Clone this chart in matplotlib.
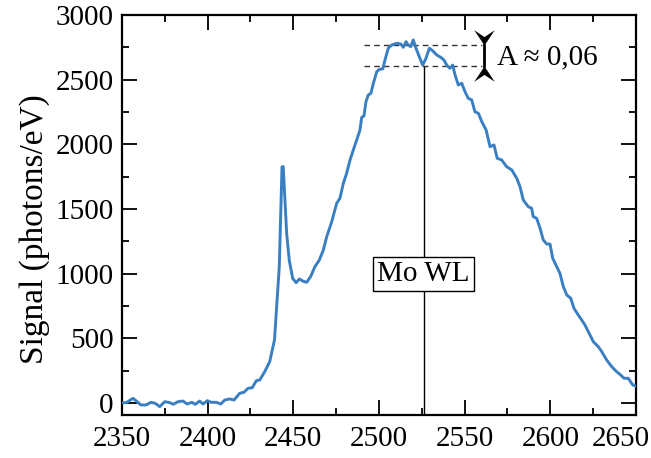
import matplotlib
matplotlib.use("Agg")
import matplotlib.pyplot as plt
from matplotlib.path import Path
from matplotlib.ticker import MultipleLocator, FixedLocator
import matplotlib.transforms as mtransforms

plt.rcParams['font.family'] = ['Liberation Serif', 'DejaVu Serif']
plt.rcParams['mathtext.fontset'] = 'stix'

# ---- data ----
energy = [2350, 2352.5, 2356.4, 2358.4, 2361, 2364, 2367, 2369.4, 2372, 2375, 2378, 2380,
          2382.7, 2385.6, 2388, 2390.8, 2392.8, 2395.3, 2397.3, 2399.8, 2402, 2405, 2407.6,
          2410, 2412.9, 2415.4, 2418.7, 2421.2, 2423.5, 2426, 2428.4, 2430.4, 2433.3, 2436.2,
          2438.1, 2439, 2440.3, 2441.8, 2442.6, 2443.4, 2444.1, 2445.1, 2446.1, 2447.6,
          2449.6, 2451.6, 2453.5, 2455.5, 2457.8, 2460.1, 2462.6, 2465.2, 2467.5, 2469.5,
          2472.4, 2475.3, 2477.2, 2479.2, 2481.1, 2483.1, 2485, 2487, 2488.9, 2489.9, 2491.2,
          2492.4, 2493.7, 2495.3, 2496.7, 2498.7, 2500.2, 2502.2, 2503.5, 2505.4, 2507.4,
          2510.3, 2512.7, 2514.2, 2515.8, 2517.1, 2518.5, 2520, 2521.6, 2523.5, 2525.5,
          2527.4, 2529.4, 2531.3, 2533.7, 2536, 2537.9, 2539.5, 2541.4, 2543, 2544.4, 2546.3,
          2548.3, 2550.2, 2552.1, 2554.1, 2556, 2558, 2560, 2562.5, 2564.8, 2567.1, 2569,
          2571.6, 2574.5, 2577.5, 2580.4, 2582.3, 2584.2, 2587.1, 2589.1, 2590, 2592, 2594,
          2595.9, 2597.9, 2599.8, 2601.4, 2603.7, 2605.6, 2607.6, 2609.6, 2611.9, 2613.8,
          2616.3, 2618.3, 2620.2, 2622.2, 2625.1, 2628, 2630, 2632.9, 2635.8, 2638.7, 2641.1,
          2643, 2645.5, 2648.1, 2650]
signal = [2, 2, 36, 15, -15, -15, 5, -3, -28, 10, 2, -10,
          10, 15, -8, 5, -10, 15, -8, 18, 5, 5, -8,
          23, 31, 23, 75, 83, 113, 118, 172, 178, 242, 319,
          435, 487, 745, 1054, 1440, 1827, 1827, 1570, 1312, 1106,
          964, 930, 959, 943, 933, 977, 1054, 1106, 1183, 1286,
          1402, 1544, 1583, 1699, 1776, 1879, 1956, 2034, 2111, 2209, 2219,
          2330, 2381, 2395, 2472, 2562, 2580, 2583, 2652, 2743, 2768,
          2781, 2776, 2750, 2794, 2768, 2755, 2807, 2743, 2678, 2613,
          2665, 2743, 2724, 2691, 2673, 2652, 2613, 2588, 2613, 2536, 2459,
          2472, 2407, 2356, 2343, 2252, 2240, 2175, 2111, 1982, 1995, 1892,
          1879, 1827, 1802, 1737, 1672, 1570, 1518, 1505, 1441, 1428, 1351,
          1260, 1229, 1229, 1119, 1054, 1003, 899, 835, 810, 732,
          680, 642, 603, 551, 474, 435, 397, 332, 281, 242, 216,
          191, 191, 139, 131]

x_ticks = [2350, 2400, 2450, 2500, 2550, 2600, 2650]
y_ticks = [0, 500, 1000, 1500, 2000, 2500, 3000]

mo_wl = 2526
level_high = 2765
level_low = 2608
dash_start, dash_end = 2491, 2560
bar_x = 2561
label_text = "A \u2248 0,06"
box_text = "Mo WL"
box_y = 1000

fig = plt.figure(figsize=(6.51, 4.58), dpi=100)
ax = fig.add_axes([122/651, 43/458, (636-122)/651, (415-15)/458])

ax.plot(energy, signal, color='#3a7fc1', lw=2.1, zorder=3)

ax.set_xlim(2350, 2650)
ax.set_ylim(-93, 3000)

# Mo WL vertical line and box
ax.plot([mo_wl, mo_wl], [-93, level_low], color='black', lw=1.0, zorder=2)
ax.text(mo_wl, box_y, box_text, ha='center', va='center', fontsize=21, zorder=5,
        bbox=dict(boxstyle='square,pad=0.14', fc='white', ec='black', lw=1.0))

# dashed levels
ax.plot([dash_start, dash_end], [level_high, level_high], color='#333333', lw=1.0,
        ls=(0, (4, 3)), zorder=2)
ax.plot([dash_start, dash_end], [level_low, level_low], color='#333333', lw=1.0,
        ls=(0, (4, 3)), zorder=2)

# amplitude bar with arrowheads
ax.plot([bar_x, bar_x], [level_low, level_high], color='black', lw=2.0, zorder=4)
down_head = Path([(0, 0), (-0.67, 1.0), (0, 0.55), (0.67, 1.0), (0, 0)],
                 [Path.MOVETO, Path.LINETO, Path.LINETO, Path.LINETO, Path.CLOSEPOLY])
up_head = Path([(0, 0), (-0.67, -1.0), (0, -0.55), (0.67, -1.0), (0, 0)],
               [Path.MOVETO, Path.LINETO, Path.LINETO, Path.LINETO, Path.CLOSEPOLY])
ax.plot([bar_x], [level_high], marker=down_head, ms=22, color='black', mew=0, ls='none', zorder=4)
ax.plot([bar_x], [level_low], marker=up_head, ms=22, color='black', mew=0, ls='none', zorder=4)
ax.text(2569, (level_high + level_low) / 2 - 15, label_text, ha='left', va='center', fontsize=21)

# axes styling
ax.xaxis.set_major_locator(FixedLocator(x_ticks))
ax.yaxis.set_major_locator(FixedLocator(y_ticks))
ax.xaxis.set_minor_locator(MultipleLocator(25))
ax.yaxis.set_minor_locator(MultipleLocator(250))
ax.tick_params(which='both', direction='in', top=True, right=True, width=1.3, labelsize=21)
ax.tick_params(which='major', length=10.8)
ax.tick_params(which='minor', length=5.0)
ax.tick_params(axis='x', which='major', pad=8)
ax.tick_params(axis='y', which='major', pad=6)
for s in ax.spines.values():
    s.set_linewidth(1.6)

ax.set_ylabel("Signal (photons/eV)", fontsize=24)
ax.yaxis.set_label_coords(-0.14, 0.465)

fig.canvas.draw()
labels = ax.get_xticklabels()
off = mtransforms.ScaledTranslation(-15/100, 0, fig.dpi_scale_trans)
labels[-1].set_transform(labels[-1].get_transform() + off)

fig.savefig("out.png", dpi=100)
